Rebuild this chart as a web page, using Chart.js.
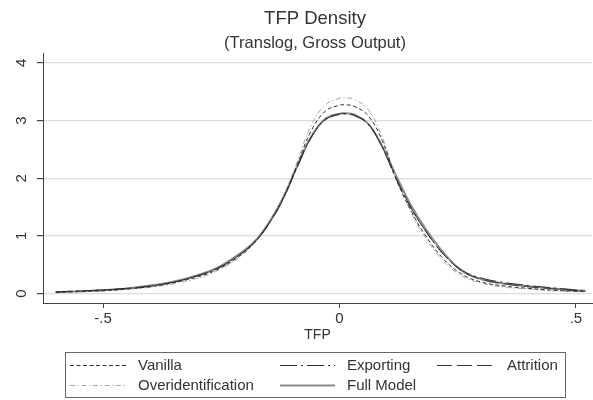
<!DOCTYPE html>
<html>
<head>
<meta charset="utf-8">
<script src="https://cdn.jsdelivr.net/npm/chart.js@4/dist/chart.umd.min.js"></script>
<style>
  html, body { margin: 0; padding: 0; background: #fff; }
  canvas { display: block; }
</style>
</head>
<body>
<canvas id="c" width="593" height="400"></canvas>
<script>
// Kernel density estimates of TFP, evaluated on a common grid
const tfp = [-0.60, -0.55, -0.50, -0.45, -0.40, -0.35, -0.30, -0.26, -0.22, -0.18, -0.15, -0.12, -0.09, -0.06, -0.03,
             0.00, 0.015, 0.03, 0.06, 0.09, 0.12, 0.15, 0.18, 0.22, 0.26, 0.30, 0.35, 0.40, 0.45, 0.50, 0.52];

const vanilla = [0.020, 0.035, 0.050, 0.080, 0.120, 0.190, 0.290, 0.410, 0.600, 0.880, 1.200, 1.640, 2.220, 2.820, 3.160,
                 3.265, 3.270, 3.250, 3.090, 2.660, 1.980, 1.460, 1.030, 0.600, 0.330, 0.200, 0.130, 0.090, 0.060, 0.040, 0.035];

const exporting = [0.030, 0.045, 0.065, 0.090, 0.130, 0.200, 0.310, 0.430, 0.620, 0.890, 1.200, 1.620, 2.180, 2.700, 3.010,
                   3.105, 3.110, 3.090, 2.940, 2.540, 1.980, 1.500, 1.110, 0.680, 0.400, 0.270, 0.190, 0.140, 0.100, 0.060, 0.045];

const attrition = [0.030, 0.045, 0.065, 0.090, 0.130, 0.200, 0.310, 0.430, 0.620, 0.890, 1.210, 1.630, 2.190, 2.710, 3.020,
                   3.115, 3.120, 3.100, 2.950, 2.550, 2.000, 1.510, 1.110, 0.680, 0.390, 0.250, 0.170, 0.120, 0.085, 0.050, 0.040];

const overidentification = [0.020, 0.030, 0.045, 0.070, 0.110, 0.170, 0.270, 0.390, 0.580, 0.870, 1.200, 1.660, 2.270, 2.920, 3.270,
                            3.385, 3.390, 3.370, 3.200, 2.720, 2.000, 1.430, 0.990, 0.560, 0.300, 0.180, 0.110, 0.080, 0.050, 0.035, 0.030];

const fullModel = [0.025, 0.040, 0.060, 0.090, 0.140, 0.210, 0.320, 0.440, 0.640, 0.900, 1.220, 1.650, 2.200, 2.720, 3.030,
                   3.120, 3.125, 3.105, 2.950, 2.560, 2.040, 1.550, 1.150, 0.710, 0.390, 0.250, 0.170, 0.125, 0.090, 0.060, 0.050];

const seriesNames = ['Vanilla', 'Exporting', 'Attrition', 'Overidentification', 'Full Model'];
const yTickValues = [0, 1, 2, 3, 4];
const yTickLabels = ['0', '1', '2', '3', '4'];
const xTickValues = [-0.5, 0, 0.5];
const xTickLabels = ['-.5', '0', '.5'];

const FONT = "'Liberation Sans', Arial, Helvetica, sans-serif";
const INK = '#333333';

function toPoints(values) {
  return values.map((v, i) => ({ x: tfp[i], y: v }));
}

function lineStyle(label, values, color, dash, width) {
  return {
    label: label,
    data: toPoints(values),
    borderColor: color,
    borderDash: dash,
    borderWidth: width,
    pointRadius: 0,
    pointHoverRadius: 0,
    fill: false,
    tension: 0.4
  };
}

const datasets = [
  lineStyle(seriesNames[0], vanilla, '#2f2f2f', [4, 2.5], 1),
  lineStyle(seriesNames[1], exporting, '#2f2f2f', [17, 4, 2, 4], 1),
  lineStyle(seriesNames[2], attrition, '#3a3a3a', [15, 5], 1),
  lineStyle(seriesNames[3], overidentification, '#a8a8a8', [5, 2.5, 1.5, 2.5], 1),
  lineStyle(seriesNames[4], fullModel, '#8a8a8a', [], 2)
];

// Vertical tick labels on the density axis, read bottom-to-top
const verticalTickLabels = {
  id: 'verticalTickLabels',
  afterDraw(chart) {
    const y = chart.scales.y;
    const ctx = chart.ctx;
    ctx.save();
    ctx.font = '15px ' + FONT;
    ctx.fillStyle = INK;
    ctx.textAlign = 'center';
    ctx.textBaseline = 'middle';
    yTickValues.forEach((v, i) => {
      ctx.save();
      ctx.translate(y.right - 21, y.getPixelForValue(v));
      ctx.rotate(-Math.PI / 2);
      ctx.fillText(yTickLabels[i], 0, 0);
      ctx.restore();
    });
    ctx.restore();
  }
};

// Boxed legend below the plot, laid out in three columns
const boxLegend = {
  id: 'boxLegend',
  afterDraw(chart) {
    const ctx = chart.ctx;
    const box = { x: 65.5, y: 352.5, w: 500, h: 45 };
    const cols = [
      { lx0: 70, lx1: 127, tx: 138 },
      { lx0: 280, lx1: 335, tx: 347 },
      { lx0: 437, lx1: 493, tx: 507 }
    ];
    const rows = [365, 385];
    ctx.save();
    ctx.strokeStyle = '#666';
    ctx.lineWidth = 1;
    ctx.strokeRect(box.x, box.y, box.w, box.h);
    ctx.font = '15px ' + FONT;
    ctx.textBaseline = 'middle';
    ctx.textAlign = 'left';
    chart.data.datasets.forEach((ds, i) => {
      const col = cols[i % 3];
      const y = rows[Math.floor(i / 3)];
      ctx.beginPath();
      ctx.setLineDash(ds.borderDash || []);
      ctx.strokeStyle = ds.borderColor;
      ctx.lineWidth = ds.borderWidth;
      ctx.moveTo(col.lx0, y + 0.5);
      ctx.lineTo(col.lx1, y + 0.5);
      ctx.stroke();
      ctx.setLineDash([]);
      ctx.fillStyle = INK;
      ctx.fillText(ds.label, col.tx, y + 1);
    });
    ctx.restore();
  }
};

Chart.defaults.font.family = FONT;
Chart.defaults.color = INK;

new Chart(document.getElementById('c'), {
  type: 'line',
  data: { datasets: datasets },
  plugins: [verticalTickLabels, boxLegend],
  options: {
    responsive: false,
    devicePixelRatio: 1,
    animation: false,
    layout: { padding: { left: 38, right: 1, top: 0, bottom: 52 } },
    plugins: {
      legend: { display: false },
      tooltip: { enabled: false },
      title: {
        display: true,
        text: 'TFP Density',
        color: INK,
        font: { size: 18.5, weight: 'normal' },
        padding: { top: 8, bottom: 1 }
      },
      subtitle: {
        display: true,
        text: '(Translog, Gross Output)',
        color: INK,
        font: { size: 16.5, weight: 'normal' },
        padding: { top: 2, bottom: 0.6 }
      }
    },
    scales: {
      x: {
        type: 'linear',
        min: -0.627,
        max: 0.534,
        afterBuildTicks(axis) { axis.ticks = xTickValues.map(v => ({ value: v })); },
        afterFit(axis) { axis.height = 45; },
        ticks: {
          font: { size: 15 },
          color: INK,
          padding: 2,
          maxRotation: 0,
          callback(value) {
            const k = xTickValues.indexOf(value);
            return k >= 0 ? xTickLabels[k] : '';
          }
        },
        grid: { drawOnChartArea: false, drawTicks: true, tickLength: 5, tickColor: '#444' },
        border: { display: true, color: '#444', width: 1 },
        title: { display: true, text: 'TFP', color: INK, font: { size: 14 }, padding: { top: 0, bottom: 4 } }
      },
      y: {
        type: 'linear',
        min: -0.163,
        max: 4.16,
        afterBuildTicks(axis) { axis.ticks = yTickValues.map(v => ({ value: v })); },
        afterFit(axis) { axis.width = 5; },
        ticks: { display: false },
        grid: { color: '#dcdcdc', lineWidth: 1.2, drawTicks: true, tickLength: 6, tickColor: '#444' },
        border: { display: true, color: '#444', width: 1 }
      }
    }
  }
});
</script>
</body>
</html>
